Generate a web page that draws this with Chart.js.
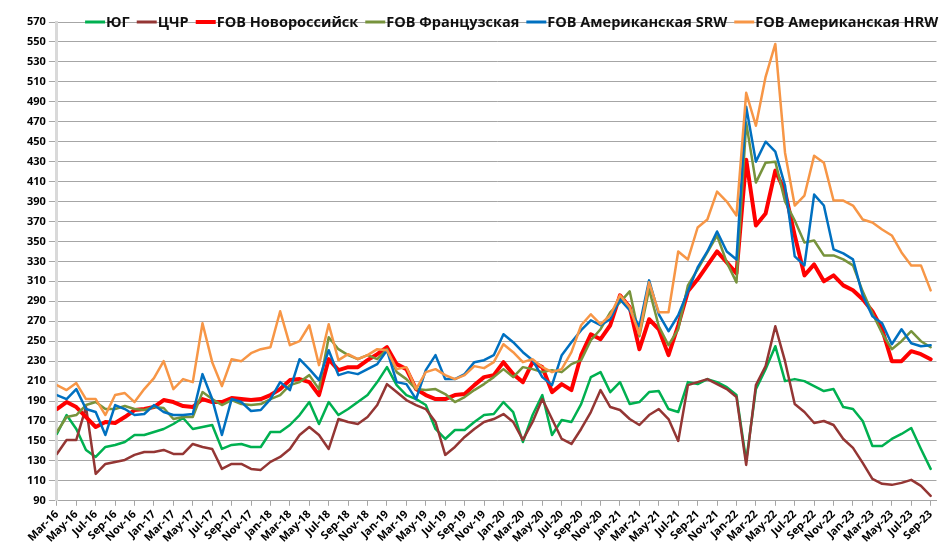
<!DOCTYPE html>
<html><head><meta charset="utf-8">
<script src="https://cdn.jsdelivr.net/npm/chart.js@4.4.0/dist/chart.umd.min.js"></script>
<style>html,body{margin:0;padding:0;background:#fff}#wrap{width:942px;height:560px;position:relative}</style>
</head><body><div id="wrap"><canvas id="c"></canvas></div>
<script>
const tickLabels = ['Mar-16','May-16','Jul-16','Sep-16','Nov-16','Jan-17','Mar-17','May-17','Jul-17','Sep-17','Nov-17',
'Jan-18','Mar-18','May-18','Jul-18','Sep-18','Nov-18','Jan-19','Mar-19','May-19','Jul-19','Sep-19','Nov-19',
'Jan-20','Mar-20','May-20','Jul-20','Sep-20','Nov-20','Jan-21','Mar-21','May-21','Jul-21','Sep-21','Nov-21',
'Jan-22','Mar-22','May-22','Jul-22','Sep-22','Nov-22','Jan-23','Mar-23','May-23','Jul-23','Sep-23'];

// monthly values, Mar-16 .. Sep-23
const yug = [157,176,162,141,134,144,146,149,156,156, 159,162,167,173,162,164,166,142,146,147,
 144,144,159,159,166,176,189,167,189,176, 182,189,196,209,224,206,196,192,186,162,
 152,161,161,169,176,177,189,179,149,176, 196,156,171,169,187,214,219,199,209,187,
 189,199,200,182,179,209,207,212,209,204, 196,130,202,222,245,210,212,210,205,200,
 202,184,182,170,145,145,152,157,163,142, 122];
const cchr = [137,151,151,184,117,127,129,131,136,139, 139,141,137,137,147,144,142,122,127,127,
 122,121,129,134,142,156,164,156,142,172, 169,167,174,186,207,199,191,186,182,169,
 136,144,154,162,169,172,177,169,151,169, 192,172,152,147,162,179,201,184,181,172,
 166,176,182,172,150,206,209,212,207,202, 194,126,206,225,265,230,187,179,168,170,
 166,152,143,128,112,107,106,108,111,105, 95];
const novo = [182,189,184,174,164,169,168,174,181,182, 184,191,189,185,184,192,189,189,193,192,
 191,192,196,202,211,212,209,196,232,221, 224,224,231,237,244,227,222,202,196,192,
 192,196,197,206,214,216,229,217,209,229, 224,199,207,201,236,257,252,266,296,284,
 242,272,262,236,266,300,312,326,340,329, 318,432,366,378,421,400,356,316,327,310,
 316,306,301,292,280,262,230,230,240,237, 232];
const french = [159,174,176,186,189,182,182,185,182,181, 184,183,172,174,174,199,192,186,191,187,
 186,187,192,196,206,209,216,202,254,242, 236,232,236,232,242,219,212,202,201,202,
 197,189,194,201,207,214,222,214,224,222, 219,221,219,227,231,251,262,279,289,300,
 255,302,265,246,262,306,322,339,356,329, 309,469,409,429,430,390,371,349,351,336,
 336,332,326,300,278,258,242,250,260,250, 244];
const srw = [196,192,202,182,179,156,186,182,176,177, 186,179,176,176,177,217,192,156,192,189,
 180,181,192,209,201,232,222,211,241,216, 219,217,222,227,241,209,207,192,221,236,
 212,212,217,229,231,236,257,249,239,231, 214,206,236,249,261,271,266,272,292,281,
 265,311,277,260,276,300,324,340,360,340, 332,485,430,450,440,406,335,326,397,386,
 342,338,332,296,275,268,247,262,248,245, 246];
const hrw = [206,201,208,192,192,176,196,198,189,202, 213,230,202,212,209,268,229,205,232,230,
 238,242,244,280,246,250,266,226,267,231, 237,232,236,242,241,222,224,202,219,222,
 216,212,216,225,223,229,247,239,229,232, 224,219,222,239,266,277,267,276,296,284,
 257,309,279,279,340,332,364,372,400,390, 376,499,466,515,548,439,386,396,436,429,
 391,391,386,372,369,362,356,339,326,326, 301];

const seriesNames = ['ЮГ','ЦЧР','FOB Новороссийск','FOB Французская','FOB Американская SRW','FOB Американская HRW'];
const colors = ['#00B050','#943634','#FF0000','#77933C','#0070C0','#F79646'];
const widths = [2.5,2.5,4,2.5,2.5,2.5];
const series = [yug, cchr, novo, french, srw, hrw];

const datasets = series.map((arr,k)=>({
  label: seriesNames[k],
  data: arr.map((v,i)=>({x:i, y:v})),
  borderColor: colors[k], backgroundColor: colors[k],
  borderWidth: widths[k], pointRadius:0, tension:0,
  borderJoinStyle:'round', borderCapStyle:'round',
  order: 6-k
}));

// legend drawn across the top gridline, like the original
const topLegend = {
  id:'topLegend',
  afterDraw(chart){
    const ctx = chart.ctx, ca = chart.chartArea;
    ctx.save();
    ctx.font = "bold 14.5px 'Open Sans', sans-serif";
    ctx.textBaseline = 'middle'; ctx.textAlign = 'left';
    const lineLen = 20, gapText = 1, gapItem = 7;
    const tw = seriesNames.map(n => ctx.measureText(n).width);
    const total = tw.reduce((a,b)=>a+b,0) + seriesNames.length*(lineLen+gapText) + (seriesNames.length-1)*gapItem;
    let x = (ca.left + ca.right)/2 + 15 - total/2;
    const y = ca.top;
    seriesNames.forEach((n,k)=>{
      ctx.strokeStyle = colors[k]; ctx.lineWidth = k===2 ? 4 : 3;
      ctx.beginPath(); ctx.moveTo(x, y); ctx.lineTo(x+lineLen, y); ctx.stroke();
      x += lineLen + gapText;
      ctx.fillStyle = '#111'; ctx.fillText(n, x, y + 1);
      x += tw[k] + gapItem;
    });
    ctx.restore();
  }
};

Chart.defaults.font.family = "'Open Sans', sans-serif";
new Chart(document.getElementById('c'), {
  type:'line',
  data:{datasets},
  plugins:[topLegend],
  options:{
    responsive:true, maintainAspectRatio:false, animation:false,
    layout:{padding:{left:24,right:2,top:22,bottom:13}},
    plugins:{ legend:{display:false}, tooltip:{enabled:false} },
    scales:{
      x:{
        type:'linear', min:0, max:90.6,
        ticks:{stepSize:2, includeBounds:false, autoSkip:false, maxRotation:45, minRotation:45,
          padding:2, color:'#000', font:{size:11, weight:'bold'},
          callback: v => (Number.isInteger(v) && v%2===0) ? tickLabels[v/2] : null},
        grid:{drawOnChartArea:false, drawTicks:true, tickLength:5, color:'#a6a6a6'},
        border:{color:'#a6a6a6', width:1}
      },
      y:{
        min:90, max:570,
        ticks:{stepSize:20, padding:3, color:'#000', font:{size:11, weight:'bold'}},
        grid:{color:'#a6a6a6', tickLength:8},
        border:{color:'#d9d9d9', width:3}
      }
    }
  }
});
</script>
</body></html>
